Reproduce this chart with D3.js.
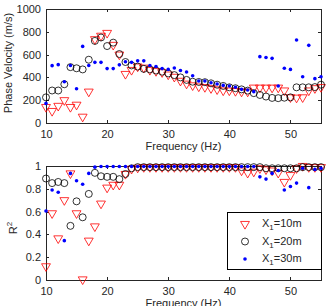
<!DOCTYPE html>
<meta charset="utf-8">
<style>
    body { margin: 0; background: #fff; }
    text { font-family: "Liberation Sans", Arial, sans-serif; fill: #262626; }
    .axis path, .axis line { fill: none; stroke: #262626; shape-rendering: crispEdges; }
    .axis text { font-size: 11px; fill: #262626; }
</style>
<svg width="329" height="306"></svg>
<script src="https://cdn.jsdelivr.net/npm/d3@7/dist/d3.min.js"></script>
<script>
    // frequencies 10..55 Hz
    var freq = [10,11,12,13,14,15,16,17,18,19,20,21,22,23,24,25,26,27,28,29,30,31,32,33,34,35,36,37,38,39,40,41,42,43,44,45,46,47,48,49,50,51,52,53,54,55];

    // phase velocity (m/s)
    var vel10 = [140,105,150,200,140,160,55,275,735,765,790,685,600,430,465,495,485,465,455,445,425,405,370,345,330,320,315,305,295,285,285,280,275,275,310,310,310,310,310,285,225,222,225,285,305,315];
    var vel20 = [225,285,285,340,490,480,470,555,720,750,675,705,605,535,505,495,475,470,460,450,435,420,400,378,362,360,358,348,336,325,313,305,295,284,262,246,232,220,218,222,225,313,313,313,315,336];
    var vel30 = [172,503,512,362,505,300,672,505,532,532,477,477,510,537,532,545,545,505,495,477,470,483,460,447,415,368,368,353,342,330,325,313,295,290,275,582,575,567,325,480,470,728,406,681,389,406];

    // R^2
    var r10 = [0.12,0.585,0.365,0.70,0.935,0.585,0.005,0.345,0.47,0.67,0.81,0.835,0.835,0.93,0.975,0.985,0.99,0.99,0.99,0.99,0.99,0.99,0.99,0.99,0.99,0.99,0.99,0.99,0.99,0.99,0.99,0.99,0.96,0.94,0.95,0.98,0.97,0.96,0.94,0.86,0.92,0.98,1.0,0.99,0.99,0.99];
    var r20 = [0.89,0.85,0.86,0.85,0.475,0.69,0.55,0.755,0.94,0.91,0.905,0.905,0.885,0.93,0.98,0.99,0.99,0.99,0.99,0.99,0.99,0.99,0.99,0.99,0.99,0.99,0.99,0.99,0.99,0.99,0.99,0.99,0.99,0.99,0.99,0.99,0.98,0.98,0.98,0.98,0.98,0.98,0.99,0.99,0.99,0.99];
    var r30 = [0.605,0.79,0.77,0.345,0.935,0.87,0.84,0.935,0.99,0.995,0.995,0.995,0.995,0.995,0.995,0.995,0.995,0.995,0.995,0.995,0.995,0.995,0.995,0.995,0.995,0.995,0.995,0.995,0.995,0.995,0.995,0.995,0.995,0.995,0.995,0.905,0.885,0.935,0.96,0.79,0.82,0.85,0.98,0.81,0.97,0.98];

    var xTicks = [10,20,30,40,50],
        velTicks = [0,200,400,600,800,1000],
        rTicks = [0,0.2,0.4,0.6,0.8,1],
        legendLabels = ["10m","20m","30m"];

    var svg = d3.select("svg"),
        left = 46, right = 321,
        xScale = d3.scaleLinear().domain([10, 55]).range([left, right]),
        yVel = d3.scaleLinear().domain([0, 1000]).range([123, 9]),
        yR = d3.scaleLinear().domain([0, 1]).range([280, 166]),
        tri = d3.symbol().type(d3.symbolTriangle).size(34);

    function drawPanel(yScale, ticks, fmt, s10, s20, s30) {
        var top = yScale.range()[1], bottom = yScale.range()[0];
        var g = svg.append("g");

        g.append("g").attr("class", "axis")
            .attr("transform", "translate(0," + bottom + ")")
            .call(d3.axisBottom(xScale).tickValues(xTicks).tickSize(-3).tickSizeOuter(0).tickPadding(7));
        g.append("g").attr("class", "axis")
            .attr("transform", "translate(0," + top + ")")
            .call(d3.axisTop(xScale).tickValues(xTicks).tickSize(-3).tickSizeOuter(0).tickFormat(""));
        g.append("g").attr("class", "axis")
            .attr("transform", "translate(" + left + ",0)")
            .call(d3.axisLeft(yScale).tickValues(ticks).tickFormat(fmt).tickSize(-3).tickSizeOuter(0).tickPadding(5));
        g.append("g").attr("class", "axis")
            .attr("transform", "translate(" + right + ",0)")
            .call(d3.axisRight(yScale).tickValues(ticks).tickSize(-3).tickSizeOuter(0).tickFormat(""));
        g.append("rect")
            .attr("x", left).attr("y", top)
            .attr("width", right - left).attr("height", bottom - top)
            .attr("fill", "none").attr("stroke", "#262626").attr("shape-rendering", "crispEdges");

        g.selectAll(".tri").data(s10).enter().append("path")
            .attr("transform", function (d, i) {
                return "translate(" + xScale(freq[i]) + "," + yScale(d) + ") rotate(180)";
            })
            .attr("d", tri)
            .attr("fill", "none").attr("stroke", "#ff0000").attr("stroke-width", 0.8);
        g.selectAll(".circ").data(s20).enter().append("circle")
            .attr("cx", function (d, i) { return xScale(freq[i]); })
            .attr("cy", function (d) { return yScale(d); })
            .attr("r", 3.5)
            .attr("fill", "none").attr("stroke", "#000").attr("stroke-width", 0.8);
        g.selectAll(".dot").data(s30).enter().append("circle")
            .attr("cx", function (d, i) { return xScale(freq[i]); })
            .attr("cy", function (d) { return yScale(d); })
            .attr("r", 1.8)
            .attr("fill", "#0000ff");

        g.append("text")
            .attr("x", (left + right) / 2).attr("y", bottom + 27)
            .attr("text-anchor", "middle").attr("font-size", 11)
            .text("Frequency (Hz)");
    }

    drawPanel(yVel, velTicks, d3.format("d"), vel10, vel20, vel30);
    drawPanel(yR, rTicks, function (d) { return d === 0 || d === 1 ? d : d3.format(".1f")(d); }, r10, r20, r30);

    // y labels
    svg.append("text")
        .attr("transform", "translate(12,63) rotate(-90)")
        .attr("text-anchor", "middle").attr("font-size", 11)
        .text("Phase Velocity (m/s)");
    var rl = svg.append("text")
        .attr("transform", "translate(17,228) rotate(-90)")
        .attr("text-anchor", "middle").attr("font-size", 11);
    rl.append("tspan").text("R");
    rl.append("tspan").attr("font-size", 8).attr("dy", -5).text("2");

    // legend
    var lg = svg.append("g");
    lg.append("rect")
        .attr("x", 227).attr("y", 212).attr("width", 94).attr("height", 57)
        .attr("fill", "#fff").attr("stroke", "#000").attr("shape-rendering", "crispEdges");
    var ly = [224, 241.5, 259];
    lg.append("path")
        .attr("transform", "translate(245," + ly[0] + ") rotate(180)")
        .attr("d", tri).attr("fill", "none").attr("stroke", "#ff0000").attr("stroke-width", 0.8);
    lg.append("circle").attr("cx", 245).attr("cy", ly[1]).attr("r", 3.5)
        .attr("fill", "none").attr("stroke", "#000").attr("stroke-width", 0.8);
    lg.append("circle").attr("cx", 245).attr("cy", ly[2]).attr("r", 1.8).attr("fill", "#0000ff");
    legendLabels.forEach(function (lab, i) {
        var t = lg.append("text").attr("x", 262).attr("y", ly[i] + 3).attr("font-size", 11);
        t.append("tspan").text("X");
        t.append("tspan").attr("font-size", 8).attr("dy", 3).text("1");
        t.append("tspan").attr("dy", -3).text("=" + lab);
    });
</script>
